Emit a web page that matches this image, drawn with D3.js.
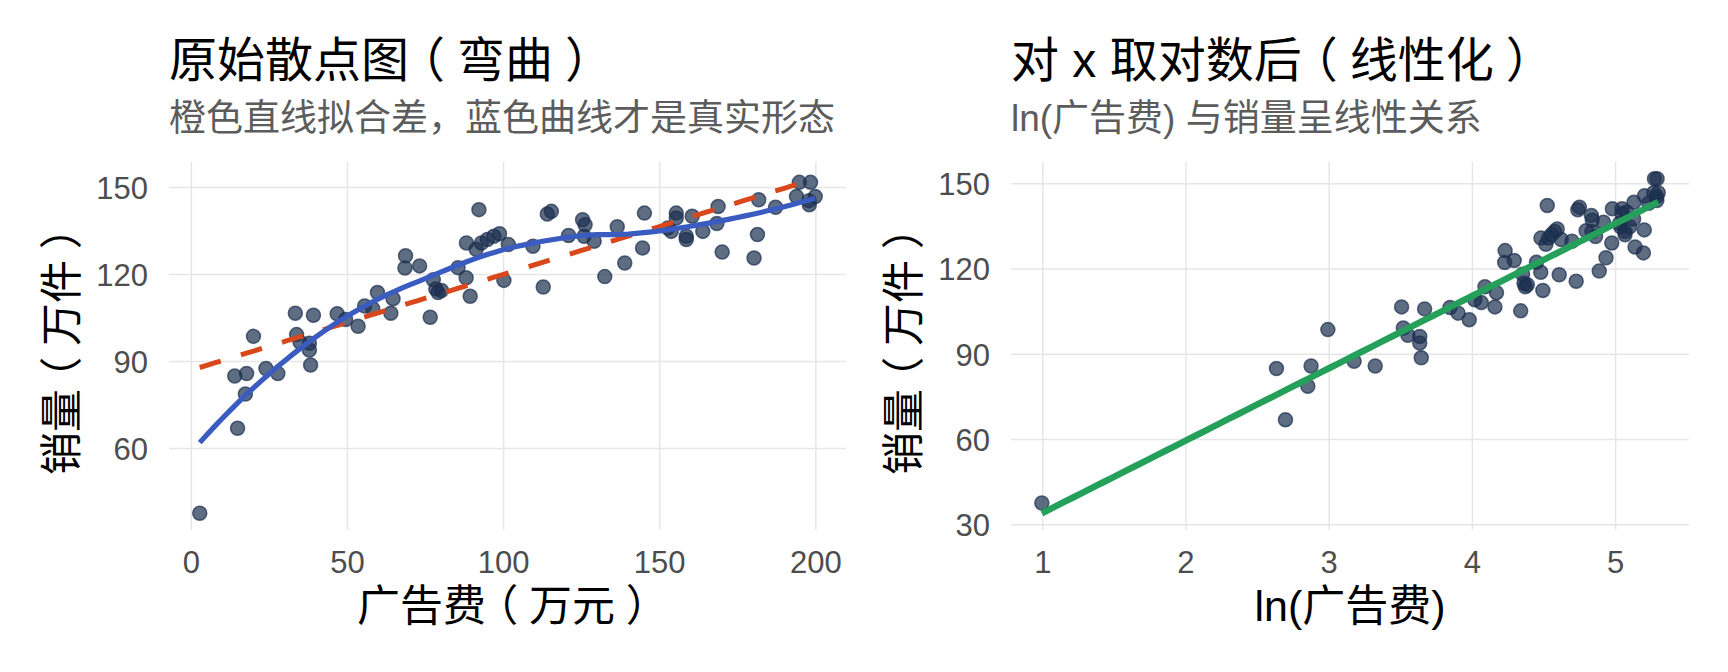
<!DOCTYPE html>
<html>
<head>
<meta charset="utf-8">
<script src="https://cdn.jsdelivr.net/npm/d3@7"></script>
<style>
body { margin: 0; background: #fff; }
text { font-family: "Liberation Sans", "Noto Sans CJK SC", sans-serif; }
</style>
</head>
<body>
<div id="chart"></div>
<script>
// 广告费 (万元) and 销量 (万件)
const ad_spend = [2.7, 13.9, 14.8, 17.3, 17.7, 19.9, 23.9, 27.7, 33.3, 33.7,
    34.8, 37.8, 37.8, 38.2, 39.1, 46.7, 49.4, 53.4, 55.5, 58.1,
    59.6, 63.9, 64.6, 68.4, 68.6, 73.1, 76.5, 77.5, 78.3, 79.0,
    80.1, 85.4, 88.0, 88.1, 89.3, 91.2, 92.1, 92.9, 94.8, 96.9,
    98.7, 100.1, 101.5, 109.4, 112.7, 114.0, 115.3, 120.8, 125.3, 125.8,
    126.1, 129.0, 132.4, 136.4, 138.8, 144.5, 145.1, 152.6, 153.7, 155.3,
    155.3, 158.5, 158.5, 160.4, 163.8, 168.3, 168.7, 170.0, 180.2, 181.3,
    181.7, 187.1, 193.8, 194.7, 197.8, 197.9, 198.3, 199.8];
const sales = [37.7, 85.0, 67.0, 78.8, 85.9, 98.7, 87.6, 85.9, 106.7, 99.3,
    96.7, 96.3, 94.0, 88.8, 106.0, 106.5, 104.5, 102.2, 109.2, 108.2,
    113.8, 106.7, 111.7, 122.3, 126.5, 123.0, 105.3, 118.2, 115.0, 113.8,
    114.5, 122.4, 118.9, 130.9, 112.5, 128.7, 142.4, 130.9, 132.1, 133.2,
    134.1, 118.0, 130.4, 129.8, 115.7, 140.9, 141.8, 133.5, 138.9, 133.2,
    137.2, 131.5, 119.3, 136.5, 124.0, 129.2, 141.2, 136.1, 134.9, 141.2,
    139.5, 133.2, 132.1, 140.1, 134.9, 137.6, 143.5, 127.8, 125.7, 133.8,
    145.8, 143.2, 146.9, 151.8, 145.5, 144.1, 151.8, 146.9];

const left_x_ticks = [0, 50, 100, 150, 200];
const left_y_ticks = [60, 90, 120, 150];
const right_x_ticks = [1, 2, 3, 4, 5];
const right_y_ticks = [30, 60, 90, 120, 150];

const chart_width = 1728;
const chart_height = 672;

const point_color = '#1b2f4e';
const grid_color = '#e6e6e6';

const svg = d3.select('#chart')
    .append('svg')
    .attr('width', chart_width)
    .attr('height', chart_height);

// ordinary least squares, returns [intercept, slope]
function lin_fit(xs, ys) {
    const mx = d3.mean(xs), my = d3.mean(ys);
    let sxy = 0, sxx = 0;
    xs.forEach((x, i) => {
        sxy += (x - mx) * (ys[i] - my);
        sxx += (x - mx) * (x - mx);
    });
    const b = sxy / sxx;
    return [my - b * mx, b];
}

// local quadratic fit with tricube weights (like R loess, span 0.75)
function loess(xs, ys, span, x0s) {
    const q = Math.floor(xs.length * span);
    return x0s.map(x0 => {
        const dist = xs.map(x => Math.abs(x - x0));
        const dmax = dist.slice().sort((a, b) => a - b)[q - 1];
        const S = [0, 0, 0, 0, 0], T = [0, 0, 0];
        xs.forEach((x, i) => {
            const r = dist[i] / dmax;
            if (r >= 1) return;
            const w = Math.pow(1 - r * r * r, 3);
            const u = x - x0;
            let p = w;
            for (let k = 0; k < 5; k++) {
                S[k] += p;
                if (k < 3) T[k] += p * ys[i];
                p *= u;
            }
        });
        const m = [[S[0], S[1], S[2], T[0]], [S[1], S[2], S[3], T[1]], [S[2], S[3], S[4], T[2]]];
        for (let c = 0; c < 3; c++) {
            for (let r = c + 1; r < 3; r++) {
                const f = m[r][c] / m[c][c];
                for (let k = c; k < 4; k++) m[r][k] -= f * m[c][k];
            }
        }
        const sol = [0, 0, 0];
        for (let r = 2; r >= 0; r--) {
            let v = m[r][3];
            for (let k = r + 1; k < 3; k++) v -= m[r][k] * sol[k];
            sol[r] = v / m[r][r];
        }
        return sol[0];
    });
}

function expand(ext) {
    const pad = (ext[1] - ext[0]) * 0.05;
    return [ext[0] - pad, ext[1] + pad];
}

// writes a label into a text node; full-width brackets get nudged so
// they sit centred in their box like in the original
function fill_label(node, str, size) {
    const nudge = size * 0.25;
    const parts = [];
    str.split(/([（）])/).filter(s => s.length).forEach((part, i, arr) => {
        if (arr[i + 1] === '（' && part.length > 1) {
            parts.push(part.slice(0, -1), part.slice(-1));
        } else {
            parts.push(part);
        }
    });
    parts.forEach((part, i) => {
        const t = node.append('tspan').text(part);
        if (parts[i + 1] === '（') t.attr('letter-spacing', -nudge);
        if (parts[i - 1] === '（') t.attr('dx', nudge);
        if (part === '）') t.attr('dx', nudge).attr('letter-spacing', -nudge);
    });
}

function draw_panel(cfg) {
    const g = svg.append('g');
    const xs = cfg.xs;
    const x_ext = d3.extent(xs);
    const grid_x = d3.range(80).map(i => x_ext[0] + i * (x_ext[1] - x_ext[0]) / 79);

    const fits = cfg.fits.map(f => {
        const vals = f.values(grid_x);
        return { ...f, pts: grid_x.map((x, i) => [x, vals[i]]) };
    });
    const all_y = sales.concat(...fits.map(f => f.pts.map(p => p[1])));

    const x_scale = d3.scaleLinear().domain(expand(x_ext)).range([cfg.left, cfg.right]);
    const y_scale = d3.scaleLinear().domain(expand(d3.extent(all_y))).range([cfg.bottom, cfg.top]);

    // grid
    g.selectAll('.gx').data(cfg.x_ticks).enter().append('line')
        .attr('x1', d => x_scale(d)).attr('x2', d => x_scale(d))
        .attr('y1', cfg.top).attr('y2', cfg.bottom)
        .attr('stroke', grid_color).attr('stroke-width', 1.5);
    g.selectAll('.gy').data(cfg.y_ticks).enter().append('line')
        .attr('x1', cfg.left).attr('x2', cfg.right)
        .attr('y1', d => y_scale(d)).attr('y2', d => y_scale(d))
        .attr('stroke', grid_color).attr('stroke-width', 1.5);

    // tick labels
    g.selectAll('.tx').data(cfg.x_ticks).enter().append('text')
        .text(d => d)
        .attr('x', d => x_scale(d))
        .attr('y', 573)
        .attr('text-anchor', 'middle')
        .attr('font-size', 31)
        .attr('fill', '#4d4d4d');
    g.selectAll('.ty').data(cfg.y_ticks).enter().append('text')
        .text(d => d)
        .attr('x', cfg.left - 21)
        .attr('y', d => y_scale(d))
        .attr('dy', '0.36em')
        .attr('text-anchor', 'end')
        .attr('font-size', 31)
        .attr('fill', '#4d4d4d');

    // points
    g.selectAll('circle').data(xs).enter().append('circle')
        .attr('cx', d => x_scale(d))
        .attr('cy', (d, i) => y_scale(sales[i]))
        .attr('r', 7)
        .attr('fill', point_color)
        .attr('fill-opacity', 0.7)
        .attr('stroke', point_color)
        .attr('stroke-opacity', 0.7)
        .attr('stroke-width', 1.5);

    // fitted lines
    const line = d3.line().x(d => x_scale(d[0])).y(d => y_scale(d[1]));
    fits.forEach(f => {
        g.append('path')
            .attr('d', line(f.pts))
            .attr('fill', 'none')
            .attr('stroke', f.color)
            .attr('stroke-width', f.width)
            .attr('stroke-dasharray', f.dash || null);
    });

    // titles
    const title = g.append('text')
        .attr('x', cfg.left).attr('y', 77)
        .attr('font-size', 48).attr('fill', '#000');
    fill_label(title, cfg.title, 48);

    g.append('text').text(cfg.subtitle)
        .attr('x', cfg.left).attr('y', 131)
        .attr('font-size', 37).attr('fill', '#5c5c5c');

    const x_title = g.append('text')
        .attr('x', (cfg.left + cfg.right) / 2).attr('y', 621)
        .attr('text-anchor', 'middle')
        .attr('font-size', 43).attr('fill', '#000');
    fill_label(x_title, cfg.x_title, 43);

    const y_title = g.append('text')
        .attr('transform', `translate(${cfg.left - 92},${(cfg.top + cfg.bottom) / 2}) rotate(-90)`)
        .attr('text-anchor', 'middle')
        .attr('font-size', 43).attr('fill', '#000');
    fill_label(y_title, '销量（万件）', 43);
}

const ln_ad = ad_spend.map(d => Math.log(d));
const lin_raw = lin_fit(ad_spend, sales);
const lin_log = lin_fit(ln_ad, sales);

draw_panel({
    xs: ad_spend,
    left: 169, right: 846, top: 162, bottom: 530,
    x_ticks: left_x_ticks, y_ticks: left_y_ticks,
    title: '原始散点图（弯曲）',
    subtitle: '橙色直线拟合差，蓝色曲线才是真实形态',
    x_title: '广告费（万元）',
    fits: [
        { values: gx => gx.map(x => lin_raw[0] + lin_raw[1] * x), color: '#d9481c', width: 5, dash: '22,21' },
        { values: gx => loess(ad_spend, sales, 0.75, gx), color: '#3a5cc0', width: 5.2 }
    ]
});

draw_panel({
    xs: ln_ad,
    left: 1011, right: 1689, top: 162, bottom: 530,
    x_ticks: right_x_ticks, y_ticks: right_y_ticks,
    title: '对 x 取对数后（线性化）',
    subtitle: 'ln(广告费) 与销量呈线性关系',
    x_title: 'ln(广告费)',
    fits: [
        { values: gx => gx.map(x => lin_log[0] + lin_log[1] * x), color: '#24a05a', width: 6.5 }
    ]
});
</script>
</body>
</html>
